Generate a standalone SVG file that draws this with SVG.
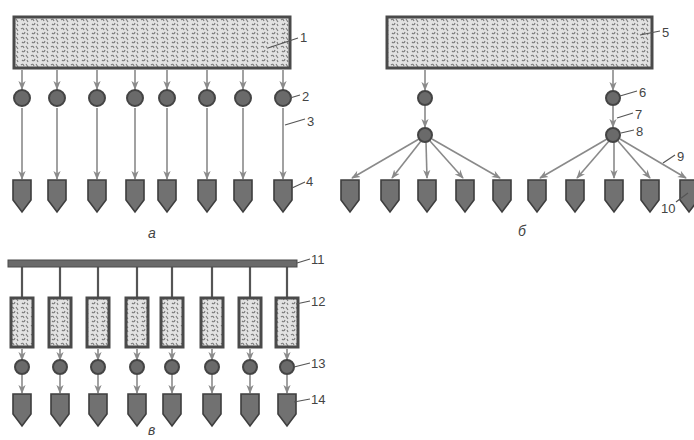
<svg xmlns="http://www.w3.org/2000/svg" width="694" height="440" viewBox="0 0 694 440">
<defs>
<pattern id="tex" width="10" height="9" patternUnits="userSpaceOnUse">
<rect width="10" height="9" fill="#e2e2e2"/>
<path d="M1,2 q2,-2 3,1 M6,1 l2,3 M2,6 q2,2 3,-1 M7,6 l1,2" stroke="#7a7a7a" stroke-width="1.1" fill="none"/>
</pattern>
<marker id="ah" viewBox="0 0 10 10" refX="9" refY="5" markerWidth="9" markerHeight="9" orient="auto" markerUnits="userSpaceOnUse">
<path d="M0,1 L10,5 L0,9 L3,5 z" fill="#8a8a8a"/>
</marker>
<style>
.box{fill:url(#tex);stroke:#4a4a4a;stroke-width:3}
.cir{fill:#6a6a6a;stroke:#444;stroke-width:2}
.pen{fill:#717171;stroke:#3e3e3e;stroke-width:1.6}
.arr{stroke:#8a8a8a;stroke-width:1.6;fill:none;marker-end:url(#ah)}
.ld{stroke:#555;stroke-width:1.2;fill:none}
.vl{stroke:#555;stroke-width:2.2}
text{font-family:"Liberation Sans",Arial,sans-serif;font-size:13px;fill:#444}
.cap{font-style:italic;font-size:14px}
</style>
</defs>
<g id="connectors">
<line class="arr" x1="22" y1="70" x2="22" y2="89"/><line class="arr" x1="57" y1="70" x2="57" y2="89"/><line class="arr" x1="97" y1="70" x2="97" y2="89"/><line class="arr" x1="135" y1="70" x2="135" y2="89"/><line class="arr" x1="167" y1="70" x2="167" y2="89"/><line class="arr" x1="207" y1="70" x2="207" y2="89"/><line class="arr" x1="243" y1="70" x2="243" y2="89"/><line class="arr" x1="283" y1="70" x2="283" y2="89"/>
<line class="arr" x1="22" y1="108" x2="22" y2="179"/><line class="arr" x1="57" y1="108" x2="57" y2="179"/><line class="arr" x1="97" y1="108" x2="97" y2="179"/><line class="arr" x1="135" y1="108" x2="135" y2="179"/><line class="arr" x1="167" y1="108" x2="167" y2="179"/><line class="arr" x1="207" y1="108" x2="207" y2="179"/><line class="arr" x1="243" y1="108" x2="243" y2="179"/><line class="arr" x1="283" y1="108" x2="283" y2="179"/>
<line class="arr" x1="425" y1="70" x2="425" y2="90"/><line class="arr" x1="613" y1="70" x2="613" y2="90"/>
<line class="arr" x1="425" y1="106" x2="425" y2="127"/><line class="arr" x1="613" y1="106" x2="613" y2="127"/>
<line class="arr" x1="419" y1="139" x2="352" y2="178"/><line class="arr" x1="421" y1="141" x2="392" y2="178"/><line class="arr" x1="426" y1="142" x2="427" y2="178"/><line class="arr" x1="430" y1="141" x2="463" y2="178"/><line class="arr" x1="432" y1="139" x2="500" y2="178"/>
<line class="arr" x1="607" y1="139" x2="540" y2="178"/><line class="arr" x1="609" y1="141" x2="577" y2="178"/><line class="arr" x1="614" y1="142" x2="614" y2="178"/><line class="arr" x1="618" y1="141" x2="650" y2="178"/><line class="arr" x1="620" y1="139" x2="686" y2="178"/>
<line class="vl" x1="22" y1="266" x2="22" y2="298"/><line class="vl" x1="60" y1="266" x2="60" y2="298"/><line class="vl" x1="98" y1="266" x2="98" y2="298"/><line class="vl" x1="137" y1="266" x2="137" y2="298"/><line class="vl" x1="172" y1="266" x2="172" y2="298"/><line class="vl" x1="212" y1="266" x2="212" y2="298"/><line class="vl" x1="250" y1="266" x2="250" y2="298"/><line class="vl" x1="287" y1="266" x2="287" y2="298"/>
<line class="arr" x1="22" y1="349" x2="22" y2="360"/><line class="arr" x1="60" y1="349" x2="60" y2="360"/><line class="arr" x1="98" y1="349" x2="98" y2="360"/><line class="arr" x1="137" y1="349" x2="137" y2="360"/><line class="arr" x1="172" y1="349" x2="172" y2="360"/><line class="arr" x1="212" y1="349" x2="212" y2="360"/><line class="arr" x1="250" y1="349" x2="250" y2="360"/><line class="arr" x1="287" y1="349" x2="287" y2="360"/>
<line class="arr" x1="22" y1="375" x2="22" y2="393"/><line class="arr" x1="60" y1="375" x2="60" y2="393"/><line class="arr" x1="98" y1="375" x2="98" y2="393"/><line class="arr" x1="137" y1="375" x2="137" y2="393"/><line class="arr" x1="172" y1="375" x2="172" y2="393"/><line class="arr" x1="212" y1="375" x2="212" y2="393"/><line class="arr" x1="250" y1="375" x2="250" y2="393"/><line class="arr" x1="287" y1="375" x2="287" y2="393"/>
</g>
<g id="panel-a">
<g id="n1"><rect class="box" x="14" y="17" width="276" height="51"/></g>
<g id="n2">
<circle class="cir" cx="22" cy="98" r="8"/><circle class="cir" cx="57" cy="98" r="8"/><circle class="cir" cx="97" cy="98" r="8"/><circle class="cir" cx="135" cy="98" r="8"/><circle class="cir" cx="167" cy="98" r="8"/><circle class="cir" cx="207" cy="98" r="8"/><circle class="cir" cx="243" cy="98" r="8"/><circle class="cir" cx="283" cy="98" r="8"/>
</g>
<g id="n4">
<path class="pen" d="M13,180h18v20l-9,12l-9,-12z"/><path class="pen" d="M48,180h18v20l-9,12l-9,-12z"/><path class="pen" d="M88,180h18v20l-9,12l-9,-12z"/><path class="pen" d="M126,180h18v20l-9,12l-9,-12z"/><path class="pen" d="M158,180h18v20l-9,12l-9,-12z"/><path class="pen" d="M198,180h18v20l-9,12l-9,-12z"/><path class="pen" d="M234,180h18v20l-9,12l-9,-12z"/><path class="pen" d="M274,180h18v20l-9,12l-9,-12z"/>
</g>
</g>
<g id="panel-b">
<g id="n5"><rect class="box" x="387" y="17" width="265" height="51"/></g>
<g id="n6"><circle class="cir" cx="425" cy="98" r="7"/><circle class="cir" cx="613" cy="98" r="7"/></g>
<g id="n8"><circle class="cir" cx="425" cy="135" r="7"/><circle class="cir" cx="613" cy="135" r="7"/></g>
<g id="n10">
<path class="pen" d="M341,180h18v20l-9,12l-9,-12z"/><path class="pen" d="M381,180h18v20l-9,12l-9,-12z"/><path class="pen" d="M418,180h18v20l-9,12l-9,-12z"/><path class="pen" d="M456,180h18v20l-9,12l-9,-12z"/><path class="pen" d="M493,180h18v20l-9,12l-9,-12z"/>
<path class="pen" d="M528,180h18v20l-9,12l-9,-12z"/><path class="pen" d="M566,180h18v20l-9,12l-9,-12z"/><path class="pen" d="M605,180h18v20l-9,12l-9,-12z"/><path class="pen" d="M641,180h18v20l-9,12l-9,-12z"/><path class="pen" d="M680,180h18v20l-9,12l-9,-12z"/>
</g>
</g>
<g id="panel-c">
<g id="n11"><rect x="8" y="260" width="289" height="7" fill="#6a6a6a" stroke="#4a4a4a" stroke-width="1"/></g>
<g id="n12">
<rect class="box" x="11" y="298" width="22" height="49"/><rect class="box" x="49" y="298" width="22" height="49"/><rect class="box" x="87" y="298" width="22" height="49"/><rect class="box" x="126" y="298" width="22" height="49"/><rect class="box" x="161" y="298" width="22" height="49"/><rect class="box" x="201" y="298" width="22" height="49"/><rect class="box" x="239" y="298" width="22" height="49"/><rect class="box" x="276" y="298" width="22" height="49"/>
</g>
<g id="n13">
<circle class="cir" cx="22" cy="367" r="7"/><circle class="cir" cx="60" cy="367" r="7"/><circle class="cir" cx="98" cy="367" r="7"/><circle class="cir" cx="137" cy="367" r="7"/><circle class="cir" cx="172" cy="367" r="7"/><circle class="cir" cx="212" cy="367" r="7"/><circle class="cir" cx="250" cy="367" r="7"/><circle class="cir" cx="287" cy="367" r="7"/>
</g>
<g id="n14">
<path class="pen" d="M13,394h18v20l-9,12l-9,-12z"/><path class="pen" d="M51,394h18v20l-9,12l-9,-12z"/><path class="pen" d="M89,394h18v20l-9,12l-9,-12z"/><path class="pen" d="M128,394h18v20l-9,12l-9,-12z"/><path class="pen" d="M163,394h18v20l-9,12l-9,-12z"/><path class="pen" d="M203,394h18v20l-9,12l-9,-12z"/><path class="pen" d="M241,394h18v20l-9,12l-9,-12z"/><path class="pen" d="M278,394h18v20l-9,12l-9,-12z"/>
</g>
</g>
<g id="labels">
<path class="ld" d="M268,48L298,38 M290,98L300,95 M285,125L305,119 M292,188L305,182 M640,35L660,31 M620,96L637,91 M617,118L633,113 M621,133L634,130 M663,163L675,155 M676,202L688,193 M297,263L310,259 M296,304L310,301 M294,367L310,363 M294,402L310,399"/>
<text x="300" y="42">1</text><text x="302" y="101">2</text><text x="307" y="126">3</text><text x="306" y="186">4</text>
<text x="662" y="37">5</text><text x="639" y="97">6</text><text x="635" y="119">7</text><text x="636" y="136">8</text><text x="677" y="161">9</text><text x="661" y="213">10</text>
<text x="311" y="264">11</text><text x="311" y="306">12</text><text x="311" y="368">13</text><text x="311" y="404">14</text>
<text class="cap" x="148" y="238">а</text><text class="cap" x="518" y="236">б</text><text class="cap" x="148" y="435">в</text>
</g>
</svg>
